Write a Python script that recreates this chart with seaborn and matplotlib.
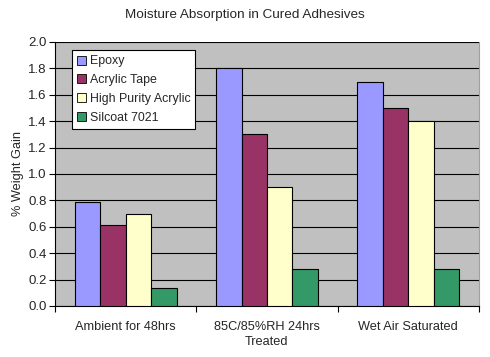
import matplotlib
matplotlib.use("Agg")
import matplotlib.pyplot as plt
import seaborn as sns
import pandas as pd
import numpy as np

categories = ["Ambient for 48hrs", "85C/85%RH 24hrs\nTreated", "Wet Air Saturated"]
series = ["Epoxy", "Acrylic Tape", "High Purity Acrylic", "Silcoat 7021"]
epoxy = [0.79, 1.80, 1.70]
acrylic_tape = [0.61, 1.30, 1.50]
high_purity_acrylic = [0.70, 0.90, 1.40]
silcoat = [0.14, 0.28, 0.28]
colors = ["#9999FF", "#993366", "#FFFFCC", "#339966"]
yticks = [0.0, 0.2, 0.4, 0.6, 0.8, 1.0, 1.2, 1.4, 1.6, 1.8, 2.0]

rows = []
for name, vals in zip(series, [epoxy, acrylic_tape, high_purity_acrylic, silcoat]):
    for c, v in zip(categories, vals):
        rows.append({"Condition": c, "Adhesive": name, "Gain": v})
df = pd.DataFrame(rows)

sns.set_theme(style="white")
plt.rcParams["font.family"] = ["Liberation Sans", "DejaVu Sans"]

fig = plt.figure(figsize=(4.9, 3.57), dpi=100)
ax = fig.add_axes([55/490, 1-306/357, (479-55)/490, (306-42)/357])
ax.set_facecolor("#C0C0C0")

sns.barplot(data=df, x="Condition", y="Gain", hue="Adhesive", order=categories,
            hue_order=series, palette=colors, saturation=1, width=0.72,
            edgecolor="black", linewidth=0.8, ax=ax, zorder=3)

ax.set_ylim(0, 2.0)
ax.set_yticks(yticks)
ax.set_yticklabels([f"{t:.1f}" for t in yticks], fontsize=9.5)
ax.yaxis.grid(True, color="black", linewidth=0.8, zorder=0)
ax.set_axisbelow(True)
ax.set_xlim(-0.5, 2.5)
ax.set_xticks([0, 1, 2])
ax.set_xticklabels(categories, fontsize=9.2, linespacing=1.35)
ax.set_xticks([-0.5, 0.5, 1.5, 2.5], minor=True)
ax.tick_params(axis="x", which="major", length=0, pad=11)
ax.tick_params(axis="x", which="minor", length=4, width=0.8, color="black", direction="out", bottom=True)
ax.tick_params(axis="y", length=4, width=0.8, color="black", direction="out", left=True, pad=2)

ax.set_xlabel("")
ax.set_ylabel("% Weight Gain", fontsize=9.2, labelpad=3)
for side in ["left", "bottom"]:
    ax.spines[side].set_visible(True)
    ax.spines[side].set_color("black")
    ax.spines[side].set_linewidth(0.8)
ax.spines["top"].set_visible(False)
ax.spines["right"].set_color("#A0A0A0")
ax.spines["right"].set_linewidth(0.8)

fig.suptitle("Moisture Absorption in Cured Adhesives", fontsize=9.7, y=0.975)

leg = ax.legend(loc="upper left", bbox_to_anchor=(0.04, 0.968), fontsize=8.9,
                frameon=True, fancybox=False, framealpha=1, edgecolor="black",
                handlelength=0.75, handleheight=0.75, handletextpad=0.3,
                labelspacing=0.55, borderpad=0.4, borderaxespad=0)
leg.get_frame().set_linewidth(0.8)
leg.get_frame().set_facecolor("white")
for h in leg.legend_handles:
    h.set_edgecolor("black")
    h.set_linewidth(0.6)

fig.savefig("out.png", dpi=100, facecolor="white")
